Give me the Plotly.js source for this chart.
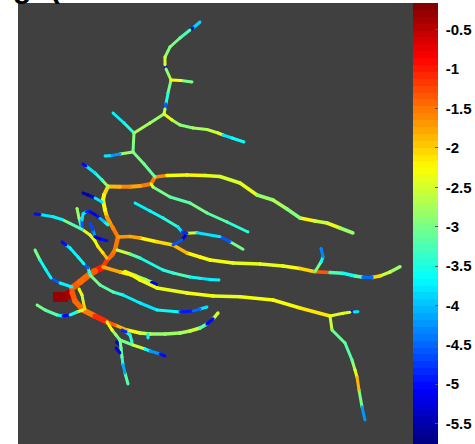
<!DOCTYPE html>
<html>
<head>
<meta charset="utf-8">
<script src="https://cdn.plot.ly/plotly-3.0.1.min.js"></script>
<style>html,body{margin:0;padding:0;background:#fff;}#chart{width:475px;height:444px;}</style>
</head>
<body>
<div id="chart"></div>
<script>
// ---------------- DATA ----------------
// Each vessel: polyline x, y (image-like units) and one value per segment.
const vesselX = [
  [200,193,190,180,170,165,165,166,171],
  [171,181,192],
  [171,168,166,165,164],
  [164,172,180,193,207,218,223,232,244],
  [164,150,134],
  [134,124,113],
  [134,133.5,133],
  [133,120,112,105],
  [133,144,155],
  [155,167,187,205,220,240,257,273,287,300,315,327,340,353],
  [155,151],
  [151,140,130,120,108],
  [108,102,95,86,83],
  [108,104,103,105,107,110,113,118],
  [102,95,88,83],
  [118,130,140,157,173,187,200,210,233,260,283,300,315,330,343,355,363,372,380,390,400],
  [315,321,323,321],
  [151,153,170,190,207,227,248],
  [135,150,163,178,182,187],
  [187,197,220,230,243],
  [187,182,173],
  [117,130,140,163,173,190,200,210,219],
  [118,115,112,107,103],
  [103,95,90,80,72],
  [53,68],
  [66,72],
  [72,75,83,95,107],
  [79,82,83.5,85],
  [35,40,46,51,60,72],
  [62,66,70,78,84,88,90],
  [90,100,113,123,140,157,180,193,200,207],
  [103,120,132,140,157,187,213,240,273,300,330],
  [125,135,145,152,156],
  [330,343,350,354,358],
  [330,332,345,352,355,357,359,362,365],
  [37,45,57,63,70,77,83],
  [107,115,127,140,150,165,180,190,200,207,213,218],
  [148,148],
  [107,112,116,120],
  [120,133,145,150,160,165],
  [122,126,130,132],
  [120,121,122,123,125,128],
  [116.5,120],
  [116,120],
  [35,40,53,62,70,82],
  [82,79,77],
  [82,82,83,86,90,95,100,104,108],
  [90,93,95,100,107],
  [82,90,95,98,103,107]
];
const vesselY = [
  [22,28,30,38,47,57,65,69,80],
  [80,80.5,82],
  [80,93,104,109,114],
  [114,120,125,128,129.5,133,135,138,142],
  [114,123,133],
  [133,123,113],
  [133,142,152],
  [152,154,155.5,156],
  [152,164,177],
  [177,175.5,175,175.5,176.5,183,195,200,209,218,221,223,228,233],
  [177,184],
  [184,186,186.7,186.7,186.5],
  [186.5,180,173,166,164],
  [186.5,195,200,210,217,223,228,237],
  [202,198,195,193],
  [237,236.5,238,241.7,245,253,257,260,263,264,266,268.5,271.7,272.5,273.3,276,277.3,277.5,276,272,266.7],
  [271.7,262,256.7,248.3],
  [184,187,197,203,213,222,232],
  [203,211,218,227,232,233.3],
  [233.3,232.7,236.7,241.7,249.3],
  [233.3,240,245],
  [250,254,258,270,273,277,278.3,279.5,280],
  [237,250,255,260,267],
  [267,271,274,282,288],
  [297,297],
  [296,293],
  [292,301,310,316,322],
  [289,295,303,309],
  [250,260,270,278,283,287],
  [242,245,248,257,264,268,274],
  [275,285,292,295,303,310,312,311,309,307],
  [267,272,275,280,288,293,296,296.7,300,308,316],
  [272,276,280,283,285],
  [316,313.3,312.3,312,311.7],
  [316,330,343,360,370,377,390,407,420],
  [305,310,315,316,315,312,310],
  [322,325,330,333,334,334,333,331,328,324,319,313],
  [334,338],
  [322,330,335,340],
  [340,345,349,351,354,356],
  [330,332,335,342],
  [340,348,357,365,373,384],
  [342,345],
  [348,353],
  [214,214.5,216.7,219.5,223.3,229.3],
  [229.3,218,208.3],
  [229.3,220,214,211.7,211.7,214.5,218.3,221.5,225],
  [223.3,230,236.7,239,240.7],
  [229.3,235,241,246.7,253,258.3]
];
const vesselValues = [
  [-3.9,-5.3,-3.3,-3.0,-2.9,-2.5,-5.3,-2.8],
  [-2.3,-3.0],
  [-3.0,-3.4,-4.6,-2.6],
  [-2.4,-2.8,-2.9,-2.7,-2.6,-2.3,-3.8,-3.6],
  [-2.8,-2.7],
  [-3.4,-3.7],
  [-2.9,-3.0],
  [-2.8,-4.2,-3.8],
  [-3.0,-3.1],
  [-1.6,-2.3,-2.2,-2.4,-2.5,-2.4,-2.8,-2.7,-2.9,-2.2,-2.6,-2.4,-2.8],
  [-1.5],
  [-1.5,-1.8,-1.6,-1.9],
  [-2.8,-3.4,-3.8,-5.0],
  [-2.0,-2.2,-2.3,-2.0,-1.7,-1.6,-1.5],
  [-3.8,-5.3,-5.5],
  [-1.7,-1.8,-2.2,-2.0,-1.9,-2.2,-2.3,-2.3,-2.4,-2.4,-2.3,-2.0,-1.3,-3.3,-3.6,-3.2,-4.5,-2.0,-2.6,-2.8],
  [-3.0,-3.6,-4.3],
  [-2.4,-3.0,-3.2,-3.0,-3.2,-3.4],
  [-3.7,-3.6,-3.4,-3.8,-4.8],
  [-2.6,-3.8,-4.6,-3.0],
  [-5.3,-4.6],
  [-2.6,-3.2,-3.5,-3.4,-3.3,-3.6,-3.8,-3.7],
  [-1.5,-1.5,-1.4,-1.2],
  [-1.0,-1.3,-1.4,-1.3],
  [-0.3],
  [-0.35],
  [-1.3,-1.4,-1.5,-1.1],
  [-2.4,-2.6,-2.0],
  [-3.0,-3.6,-3.7,-4.6,-3.7],
  [-5.0,-3.8,-3.7,-3.6,-4.6,-3.4],
  [-3.0,-3.2,-3.4,-3.7,-3.8,-3.6,-4.9,-4.5,-3.8],
  [-1.8,-2.2,-2.3,-2.3,-2.4,-2.3,-2.4,-2.3,-2.3,-2.1],
  [-2.4,-2.7,-2.8,-5.2],
  [-2.4,-2.5,-5.3,-3.8],
  [-2.6,-3.1,-3.2,-2.8,-2.4,-1.9,-3.0,-4.2],
  [-3.0,-3.2,-3.6,-5.0,-3.5,-2.6],
  [-1.3,-1.9,-2.3,-2.6,-2.8,-2.8,-2.7,-2.6,-3.2,-5.0,-2.6],
  [-3.7],
  [-2.3,-2.8,-3.0],
  [-3.0,-2.6,-3.6,-4.2,-5.0],
  [-4.8,-3.6,-3.4],
  [-3.0,-3.1,-3.4,-4.1,-3.2],
  [-5.3],
  [-5.2],
  [-5.0,-3.8,-3.7,-3.0,-3.2],
  [-3.3,-2.8],
  [-4.6,-3.8,-3.8,-4.8,-5.2,-5.0,-4.0,-3.6],
  [-4.7,-4.2,-5.2,-5.0],
  [-2.5,-2.4,-2.3,-2.1,-1.9]
];
const colorbarTicks = [-5.5,-5,-4.5,-4,-3.5,-3,-2.5,-2,-1.5,-1,-0.5];
const colorbarTickText = ['-5.5','-5','-4.5','-4','-3.5','-3','-2.5','-2','-1.5','-1','-0.5'];
const valueMin = -5.76, valueMax = -0.16;

// ---------------- STYLE ----------------
const vesselWidths = [3,3,3,3,3,3,3,3,3,3.5,4,4,3,4,3,3.5,3,3,3,3,3,3,4.5,6.5,10,9,5.5,3,3,3,3,3.5,4.5,3,3,3,3.5,3,3,3,3,3,3,3,3,3,3,3,3];

// ---------------- BUILD ----------------
const NLEV = 64;
function clamp(a){return Math.max(0,Math.min(1,a));}
function jetRGB(t){
  const r = clamp(1.5-Math.abs(4*t-3)), g = clamp(1.5-Math.abs(4*t-2)), b = clamp(1.5-Math.abs(4*t-1));
  return 'rgb('+Math.round(r*255)+','+Math.round(g*255)+','+Math.round(b*255)+')';
}
function levelOf(v){
  const t = (v-valueMin)/(valueMax-valueMin);
  return Math.max(0,Math.min(NLEV-1,Math.floor(t*NLEV)));
}
const colorscale = [];
for(let i=0;i<NLEV;i++){
  const c = jetRGB((i+0.5)/NLEV);
  colorscale.push([i/NLEV,c]); colorscale.push([(i+1)/NLEV,c]);
}
const groups = {};
const midX=[], midY=[], midV=[];
vesselX.forEach((xs,k)=>{
  const ys = vesselY[k], vs = vesselValues[k], w = vesselWidths[k];
  for(let i=0;i<xs.length-1;i++){
    const lev = levelOf(vs[i]);
    const key = lev+'_'+w;
    if(!groups[key]) groups[key]={lev:lev,w:w,x:[],y:[]};
    const g = groups[key];
    g.x.push(xs[i],xs[i+1],null); g.y.push(ys[i],ys[i+1],null);
    midX.push((xs[i]+xs[i+1])/2); midY.push((ys[i]+ys[i+1])/2); midV.push(vs[i]);
  }
});
const traces = [];
Object.keys(groups).sort((a,b)=>groups[b].w-groups[a].w).forEach(key=>{
  const g = groups[key];
  const c = jetRGB((g.lev+0.5)/NLEV);
  const thick = g.w >= 8;
  traces.push({type:'scatter',mode: thick ? 'lines' : 'lines+markers',x:g.x,y:g.y,
    line:{color:c,width:g.w},marker:{color:c,size:g.w*0.95,line:{width:0}},
    hoverinfo:'skip',showlegend:false});
});
traces.push({type:'scatter',mode:'markers',x:midX,y:midY,hoverinfo:'skip',showlegend:false,
  marker:{size:1,opacity:0,color:midV,colorscale:colorscale,cmin:valueMin,cmax:valueMax,showscale:true,
    colorbar:{x:1,xanchor:'left',xref:'paper',xpad:0,thickness:25,thicknessmode:'pixels',
      len:441,lenmode:'pixels',y:1,yanchor:'top',ypad:0,outlinewidth:0,
      tickmode:'array',tickvals:colorbarTicks,ticktext:colorbarTickText.map(t=>'\u00a0'+t),
      ticks:'inside',ticklen:3,tickcolor:'#555',tickwidth:1,
      tickfont:{family:'Liberation Sans, Arial, sans-serif',size:15,color:'#000',weight:'bold'}}}});

const layout = {
  width:475,height:444,
  margin:{l:18,r:62,t:3,b:0,pad:0},
  paper_bgcolor:'#ffffff',plot_bgcolor:'#404040',
  xaxis:{range:[18,413],visible:false,fixedrange:true},
  yaxis:{range:[444,3],visible:false,fixedrange:true},
  showlegend:false,
  annotations:[
    {text:'g',xref:'paper',yref:'paper',x:-0.018,y:1,xanchor:'left',yanchor:'bottom',yshift:-3,showarrow:false,
     font:{family:'Liberation Sans, Arial, sans-serif',size:30,color:'#000',weight:'bold'}},
    {text:'(',xref:'paper',yref:'paper',x:0.075,y:1,xanchor:'left',yanchor:'bottom',yshift:-3,showarrow:false,
     font:{family:'Liberation Sans, Arial, sans-serif',size:30,color:'#000',weight:'bold'}}
  ]
};
Plotly.newPlot('chart',traces,layout,{displayModeBar:false,staticPlot:true});
</script>
</body>
</html>
